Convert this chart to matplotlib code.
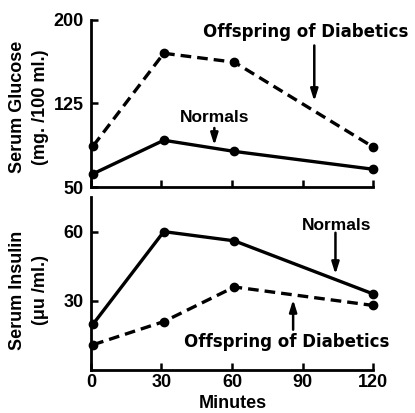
import matplotlib.pyplot as plt

# minutes after glucose load
minutes = [1, 31, 61, 120]

glucose_normals = [62, 92, 82, 66]
glucose_offspring = [87, 170, 162, 86]
insulin_normals = [20, 60, 56, 33]
insulin_offspring = [11, 21, 36, 28]

xticks = [0, 30, 60, 90, 120]
glucose_ticks = [50, 125, 200]
insulin_ticks = [30, 60]

fig = plt.figure(figsize=(4.15, 4.13), dpi=100)
ax1 = fig.add_axes([0.219, 0.547, 0.680, 0.405])
ax2 = fig.add_axes([0.219, 0.104, 0.680, 0.419])

tickfont = dict(family='Liberation Sans', weight='bold', size=13)
lw = 2.4
dash = (3.2, 1.8)

for ax in (ax1, ax2):
    ax.spines['top'].set_visible(False)
    ax.spines['right'].set_visible(False)
    ax.spines['left'].set_linewidth(2)
    ax.spines['bottom'].set_linewidth(2)
    ax.set_xlim(0, 120)
    ax.set_xticks(xticks)
    ax.tick_params(direction='in', length=5, width=1.8, pad=4)
    ax.set_facecolor('none')

# glucose panel
ax1.plot(minutes, glucose_offspring, 'k--', lw=lw, dashes=dash,
         marker='o', ms=6, clip_on=False)
ax1.plot(minutes, glucose_normals, 'k-', lw=lw, marker='o', ms=6, clip_on=False)
ax1.set_ylim(50, 200)
ax1.set_yticks(glucose_ticks)
ax1.set_yticklabels([str(v) for v in glucose_ticks], fontdict=tickfont)
ax1.set_xticklabels([])
ax1.tick_params(axis='y', pad=5)

ax1.annotate('', xy=(95, 127), xytext=(95, 177),
             arrowprops=dict(arrowstyle='-|>,head_length=0.7,head_width=0.22',
                             color='k', lw=1.8, shrinkA=0, shrinkB=0))
ax1.text(91.5, 189, 'Offspring of Diabetics', ha='center', va='center',
         family='DejaVu Sans', weight='bold', size=12)
ax1.annotate('', xy=(52.5, 87.5), xytext=(52.5, 103),
             arrowprops=dict(arrowstyle='-|>,head_length=0.7,head_width=0.22',
                             color='k', lw=1.8, shrinkA=0, shrinkB=0))
ax1.text(52.8, 112, 'Normals', ha='center', va='center',
         family='Liberation Sans', weight='bold', size=12.5)

# insulin panel
ax2.plot(minutes, insulin_normals, 'k-', lw=lw, marker='o', ms=6, clip_on=False)
ax2.plot(minutes, insulin_offspring, 'k--', lw=lw, dashes=dash,
         marker='o', ms=6, clip_on=False)
ax2.set_ylim(0, 75)
ax2.set_yticks(insulin_ticks)
ax2.set_yticklabels([str(v) for v in insulin_ticks], fontdict=tickfont)
ax2.set_xticklabels([str(v) for v in xticks], fontdict=tickfont)
ax2.tick_params(axis='y', pad=5)
ax2.tick_params(axis='x', pad=3)

ax2.annotate('', xy=(104, 41.5), xytext=(104, 59.5),
             arrowprops=dict(arrowstyle='-|>,head_length=0.7,head_width=0.22',
                             color='k', lw=1.8, shrinkA=0, shrinkB=0))
ax2.text(104.3, 62.6, 'Normals', ha='center', va='center',
         family='Liberation Sans', weight='bold', size=12.5)
ax2.annotate('', xy=(86, 30.5), xytext=(86, 17.5),
             arrowprops=dict(arrowstyle='-|>,head_length=0.7,head_width=0.22',
                             color='k', lw=1.8, shrinkA=0, shrinkB=0))
ax2.text(83.2, 12.2, 'Offspring of Diabetics', ha='center', va='center',
         family='DejaVu Sans', weight='bold', size=12)

labelfont = dict(family='Liberation Sans', weight='bold', size=13)
fig.text(29 / 415, 1 - 107 / 413, 'Serum Glucose\n(mg. /100 ml.)', rotation=90,
         ha='center', va='center', linespacing=1.5, **labelfont)
fig.text(29 / 415, 1 - 290 / 413, 'Serum Insulin\n(\u03bcu /ml.)', rotation=90,
         ha='center', va='center', linespacing=1.5, **labelfont)
fig.text(233 / 415, 1 - 403 / 413, 'Minutes', ha='center', va='center',
         family='Liberation Sans', weight='bold', size=13)

fig.savefig('out.png', dpi=100)
